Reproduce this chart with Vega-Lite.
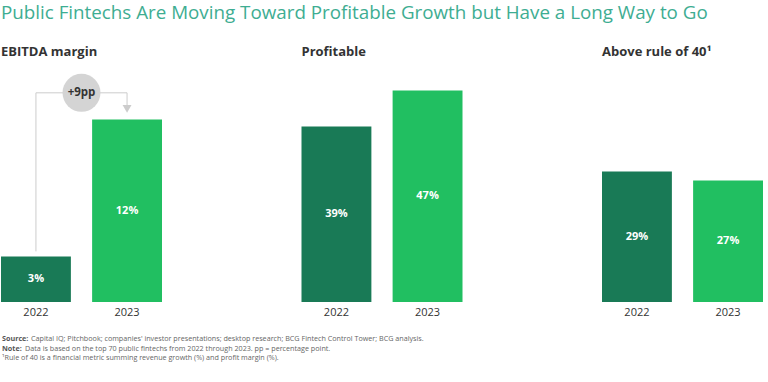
{
  "$schema": "https://vega.github.io/schema/vega-lite/v6.json",
  "background": "white",
  "padding": {"left": 1, "top": 4, "right": 0, "bottom": 0},
  "title": {
    "text": "Public Fintechs Are Moving Toward Profitable Growth but Have a Long Way to Go",
    "anchor": "start",
    "fontSize": 18.8,
    "font": "Open Sans",
    "fontWeight": "normal",
    "color": "#3EAD92",
    "offset": 23
  },
  "datasets": {
    "bars": [
      {"panel": "EBITDA margin", "year": "2022", "value": 3, "label": "3%"},
      {"panel": "EBITDA margin", "year": "2023", "value": 12, "label": "12%"},
      {"panel": "Profitable", "year": "2022", "value": 39, "label": "39%"},
      {"panel": "Profitable", "year": "2023", "value": 47, "label": "47%"},
      {"panel": "Above rule of 40", "year": "2022", "value": 29, "label": "29%"},
      {"panel": "Above rule of 40", "year": "2023", "value": 27, "label": "27%"}
    ],
    "path": [
      {"order": 1, "year": "2022", "v": 3.33},
      {"order": 2, "year": "2022", "v": 13.76},
      {"order": 3, "year": "2023", "v": 13.76},
      {"order": 4, "year": "2023", "v": 12.95}
    ],
    "bubble": [{"year": "2022", "v": 13.76, "text": "+9pp"}],
    "arrow": [{"year": "2023", "v": 12.7}],
    "notes": [
      {"line": 1, "label": "Source:", "text": "Capital IQ; Pitchbook; companies' investor presentations; desktop research; BCG Fintech Control Tower; BCG analysis."},
      {"line": 2, "label": "Note:", "text": "Data is based on the top 70 public fintechs from 2022 through 2023. pp = percentage point."},
      {"line": 3, "label": "", "text": "¹Rule of 40 is a financial metric summing revenue growth (%) and profit margin (%)."}
    ]
  },
  "spacing": 17,
  "vconcat": [
    {
      "spacing": 139.5,
      "hconcat": [
        {
          "width": 161,
          "height": 230,
          "title": {"text": "EBITDA margin", "anchor": "start", "fontSize": 13, "fontWeight": "bold", "color": "#333333", "font": "Open Sans", "offset": 13},
          "layer": [
            {
              "data": {"name": "bars"},
              "transform": [{"filter": "datum.panel == 'EBITDA margin'"}],
              "mark": {"type": "bar"},
              "encoding": {
                "x": {"field": "year", "type": "ordinal", "scale": {"domain": ["2022", "2023"], "paddingInner": 0.233, "paddingOuter": 0}, "axis": {"title": null, "domain": false, "ticks": false, "labelAngle": 0, "labelFontSize": 11, "labelColor": "#333333", "labelFont": "Open Sans", "labelPadding": 4}},
                "y": {"field": "value", "type": "quantitative", "scale": {"domain": [0, 15.13], "nice": false}, "axis": null},
                "color": {"field": "year", "type": "nominal", "scale": {"domain": ["2022", "2023"], "range": ["#197A56", "#21BF61"]}, "legend": null}
              }
            },
            {
              "data": {"name": "bars"},
              "transform": [{"filter": "datum.panel == 'EBITDA margin'"}, {"calculate": "datum.value / 2", "as": "mid"}],
              "mark": {"type": "text", "color": "white", "fontWeight": "bold", "fontSize": 11, "font": "Open Sans"},
              "encoding": {
                "x": {"field": "year", "type": "ordinal"},
                "y": {"field": "mid", "type": "quantitative"},
                "text": {"field": "label"}
              }
            },
            {
              "data": {"name": "path"},
              "mark": {"type": "line", "color": "#cccccc", "strokeWidth": 1},
              "encoding": {
                "x": {"field": "year", "type": "ordinal"},
                "y": {"field": "v", "type": "quantitative"},
                "order": {"field": "order", "type": "quantitative"}
              }
            },
            {
              "data": {"name": "arrow"},
              "mark": {"type": "point", "shape": "triangle-down", "filled": true, "color": "#cccccc", "opacity": 1, "size": 80},
              "encoding": {
                "x": {"field": "year", "type": "ordinal"},
                "y": {"field": "v", "type": "quantitative"}
              }
            },
            {
              "data": {"name": "bubble"},
              "mark": {"type": "point", "shape": "circle", "filled": true, "color": "#d4d4d4", "opacity": 1, "size": 1444},
              "encoding": {
                "x": {"field": "year", "type": "ordinal", "bandPosition": 1.152},
                "y": {"field": "v", "type": "quantitative"}
              }
            },
            {
              "data": {"name": "bubble"},
              "mark": {"type": "text", "fontSize": 11.5, "fontWeight": "bold", "color": "#333333", "font": "Open Sans"},
              "encoding": {
                "x": {"field": "year", "type": "ordinal", "bandPosition": 1.152},
                "y": {"field": "v", "type": "quantitative"},
                "text": {"field": "text"}
              }
            }
          ]
        },
        {
          "width": 161,
          "height": 230,
          "data": {"name": "bars"},
          "transform": [{"filter": "datum.panel == 'Profitable'"}],
          "title": {"text": "Profitable", "anchor": "start", "fontSize": 13, "fontWeight": "bold", "color": "#333333", "font": "Open Sans", "offset": 13},
          "layer": [
            {
              "mark": {"type": "bar"},
              "encoding": {
                "x": {"field": "year", "type": "ordinal", "scale": {"paddingInner": 0.233, "paddingOuter": 0}, "axis": {"title": null, "domain": false, "ticks": false, "labelAngle": 0, "labelFontSize": 11, "labelColor": "#333333", "labelFont": "Open Sans", "labelPadding": 4}},
                "y": {"field": "value", "type": "quantitative", "scale": {"domain": [0, 51.1], "nice": false}, "axis": null},
                "color": {"field": "year", "type": "nominal", "scale": {"domain": ["2022", "2023"], "range": ["#197A56", "#21BF61"]}, "legend": null}
              }
            },
            {
              "transform": [{"calculate": "datum.value / 2", "as": "mid"}],
              "mark": {"type": "text", "color": "white", "fontWeight": "bold", "fontSize": 11, "font": "Open Sans"},
              "encoding": {
                "x": {"field": "year", "type": "ordinal"},
                "y": {"field": "mid", "type": "quantitative"},
                "text": {"field": "label"}
              }
            }
          ]
        },
        {
          "width": 161,
          "height": 230,
          "data": {"name": "bars"},
          "transform": [{"filter": "datum.panel == 'Above rule of 40'"}],
          "title": {"text": "Above rule of 40¹", "anchor": "start", "fontSize": 13, "fontWeight": "bold", "color": "#333333", "font": "Open Sans", "offset": 13},
          "layer": [
            {
              "mark": {"type": "bar"},
              "encoding": {
                "x": {"field": "year", "type": "ordinal", "scale": {"paddingInner": 0.233, "paddingOuter": 0}, "axis": {"title": null, "domain": false, "ticks": false, "labelAngle": 0, "labelFontSize": 11, "labelColor": "#333333", "labelFont": "Open Sans", "labelPadding": 4}},
                "y": {"field": "value", "type": "quantitative", "scale": {"domain": [0, 51.1], "nice": false}, "axis": null},
                "color": {"field": "year", "type": "nominal", "scale": {"domain": ["2022", "2023"], "range": ["#197A56", "#21BF61"]}, "legend": null}
              }
            },
            {
              "transform": [{"calculate": "datum.value / 2", "as": "mid"}],
              "mark": {"type": "text", "color": "white", "fontWeight": "bold", "fontSize": 11, "font": "Open Sans"},
              "encoding": {
                "x": {"field": "year", "type": "ordinal"},
                "y": {"field": "mid", "type": "quantitative"},
                "text": {"field": "label"}
              }
            }
          ]
        }
      ]
    },
    {
      "width": 760,
      "height": 29,
      "data": {"name": "notes"},
      "encoding": {
        "y": {"field": "line", "type": "ordinal", "axis": null, "scale": {"paddingInner": 0, "paddingOuter": 0}},
        "x": {"value": 1}
      },
      "layer": [
        {
          "mark": {"type": "text", "align": "left", "baseline": "middle", "fontSize": 7.2, "fontWeight": "bold", "color": "#555555", "font": "Open Sans"},
          "encoding": {"text": {"field": "label"}}
        },
        {
          "transform": [{"filter": "datum.line == 1"}],
          "mark": {"type": "text", "align": "left", "baseline": "middle", "fontSize": 7.2, "color": "#666666", "font": "Open Sans", "dx": 29},
          "encoding": {"text": {"field": "text"}}
        },
        {
          "transform": [{"filter": "datum.line == 2"}],
          "mark": {"type": "text", "align": "left", "baseline": "middle", "fontSize": 7.2, "color": "#666666", "font": "Open Sans", "dx": 23},
          "encoding": {"text": {"field": "text"}}
        },
        {
          "transform": [{"filter": "datum.line == 3"}],
          "mark": {"type": "text", "align": "left", "baseline": "middle", "fontSize": 7.2, "color": "#666666", "font": "Open Sans"},
          "encoding": {"text": {"field": "text"}}
        }
      ]
    }
  ],
  "config": {
    "view": {"stroke": null},
    "font": "Open Sans"
  }
}
